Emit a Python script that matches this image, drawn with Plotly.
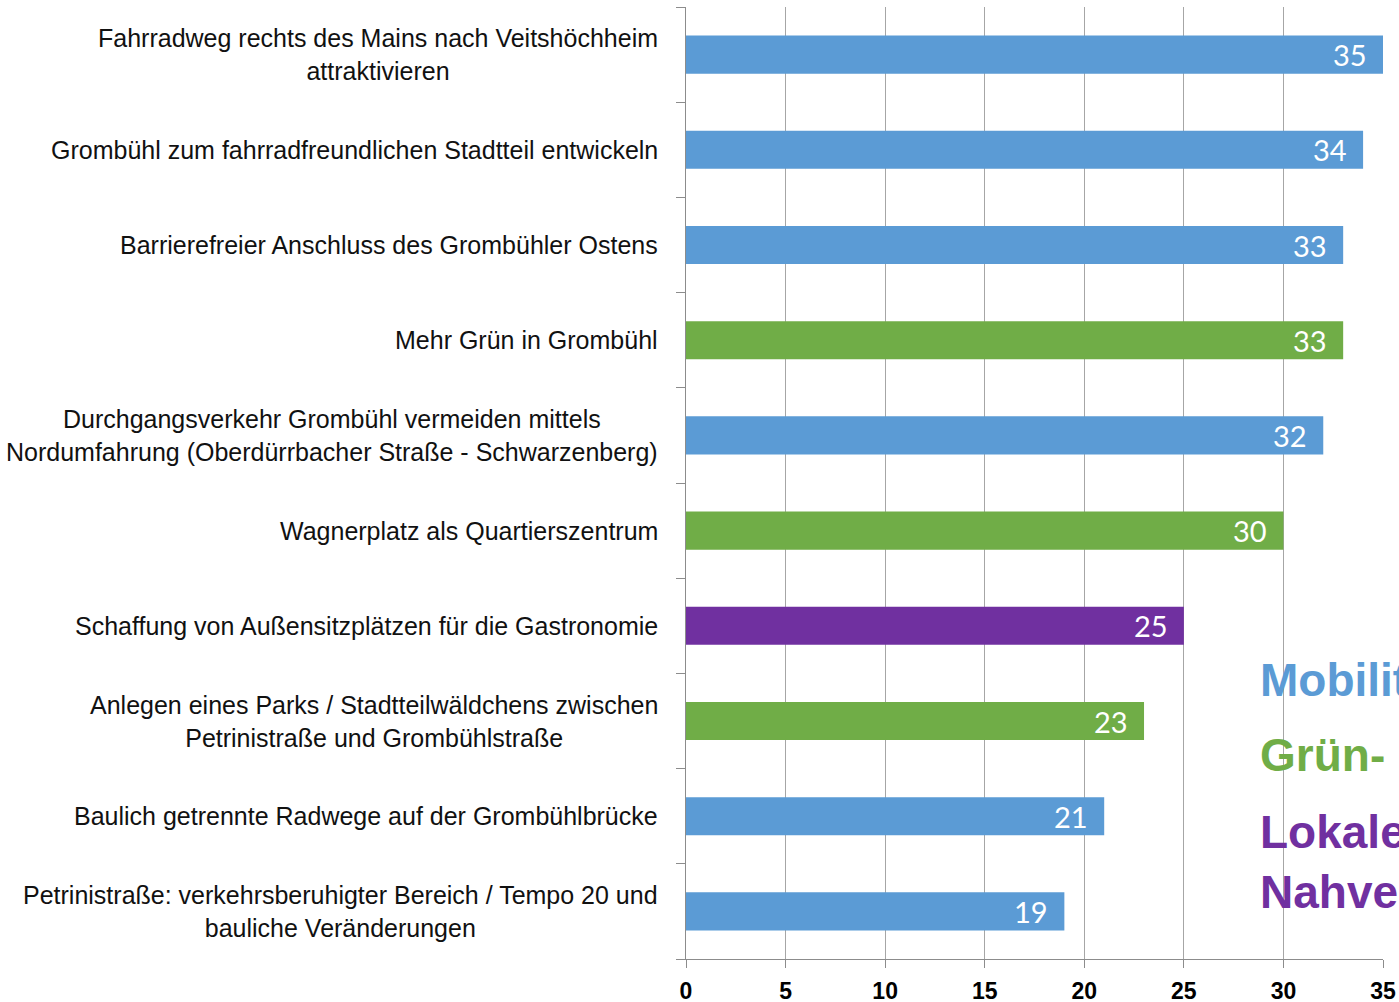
import plotly.graph_objects as go

categories = [
    "Fahrradweg rechts des Mains nach Veitshöchheim<br>attraktivieren",
    "Grombühl zum fahrradfreundlichen Stadtteil entwickeln",
    "Barrierefreier Anschluss des Grombühler Ostens",
    "Mehr Grün in Grombühl",
    "Durchgangsverkehr Grombühl vermeiden mittels<br>Nordumfahrung (Oberdürrbacher Straße - Schwarzenberg)",
    "Wagnerplatz als Quartierszentrum",
    "Schaffung von Außensitzplätzen für die Gastronomie",
    "Anlegen eines Parks / Stadtteilwäldchens zwischen<br>Petrinistraße und Grombühlstraße",
    "Baulich getrennte Radwege auf der Grombühlbrücke",
    "Petrinistraße: verkehrsberuhigter Bereich / Tempo 20 und<br>bauliche Veränderungen",
]
values = [35, 34, 33, 33, 32, 30, 25, 23, 21, 19]
groups = ["mob", "mob", "mob", "gruen", "mob", "gruen", "lok", "gruen", "mob", "mob"]
group_colors = {"mob": "#5B9BD5", "gruen": "#70AD47", "lok": "#7030A0"}
legend_texts = ["Mobilität", "Grün- und Freiräume", "Lokale Ökonomie /<br>Nahversorgung"]
legend_keys = ["mob", "gruen", "lok"]
x_ticks = [0, 5, 10, 15, 20, 25, 30, 35]

ids = list(range(len(categories)))
narrow = "Liberation Sans Narrow, Arial Narrow, Liberation Sans, Arial, sans-serif"

fig = go.Figure(go.Bar(
    x=values, y=ids, orientation="h",
    marker=dict(color=[group_colors[g] for g in groups], line=dict(width=0)),
    width=0.4, hoverinfo="skip",
))

annotations = []
for i, (c, v) in enumerate(zip(categories, values)):
    annotations.append(dict(
        x=0, xref="paper", y=i, yref="y", text=c, showarrow=False,
        xanchor="right", yanchor="middle", align="center", xshift=-26,
        font=dict(family=narrow, size=25, color="#111111"),
    ))
    annotations.append(dict(
        x=v, xref="x", y=i, yref="y", text=str(v), showarrow=False,
        xanchor="right", yanchor="middle", xshift=-14,
        font=dict(family="Lato, Open Sans, sans-serif", size=29, color="white"),
    ))

leg_y = [0.293, 0.214, 0.102]
for t, k, yy in zip(legend_texts, legend_keys, leg_y):
    annotations.append(dict(
        x=0.82, xref="paper", y=yy, yref="paper", text="<b>" + t + "</b>",
        showarrow=False, xanchor="left", yanchor="middle", align="left",
        font=dict(family="Liberation Sans, Arial, sans-serif", size=46, color=group_colors[k]),
    ))

fig.update_layout(
    width=1399, height=1002, autosize=False,
    margin=dict(l=686, r=16, t=7, b=43, autoexpand=False),
    paper_bgcolor="white", plot_bgcolor="white",
    showlegend=False,
    annotations=annotations,
    xaxis=dict(
        range=[0, 35], tickvals=x_ticks, showgrid=True, gridcolor="#A6A6A6", gridwidth=1,
        zeroline=False, showline=True, linecolor="#8C8C8C", linewidth=1,
        ticks="outside", ticklen=8, tickcolor="#8C8C8C", automargin=False,
        ticklabelstandoff=3,
        tickfont=dict(family=narrow, size=23, color="black", weight="bold"),
    ),
    yaxis=dict(
        type="category", tickvals=ids, ticktext=[""] * len(ids),
        autorange="reversed", tickson="boundaries", ticks="outside", ticklen=9,
        tickcolor="#8C8C8C", showline=True, linecolor="#8C8C8C", linewidth=1,
        showgrid=False, zeroline=False, automargin=False,
    ),
)

fig.write_html(
    "out.html",
    config={"responsive": False, "displayModeBar": False},
    post_script="document.body.style.margin='0';document.body.style.overflow='hidden';",
)
